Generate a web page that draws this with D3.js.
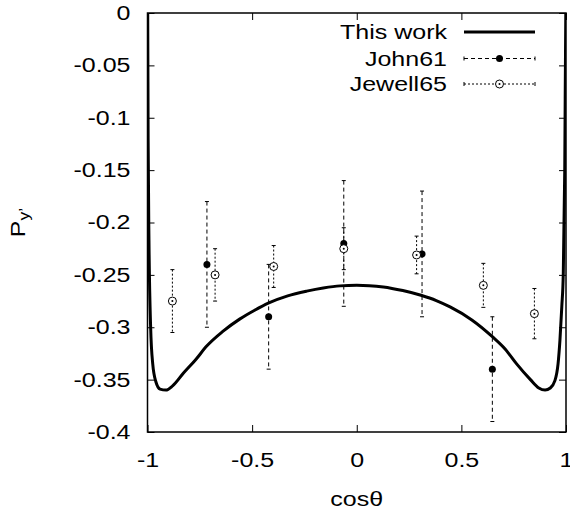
<!DOCTYPE html>
<html>
<head>
<meta charset="utf-8">
<script src="https://cdn.jsdelivr.net/npm/d3@7"></script>
<style>
  body { margin: 0; background: #fff; }
  text { font-family: "Liberation Sans", Arial, sans-serif; fill: #000; }
</style>
</head>
<body>
<svg id="chart" width="570" height="510"></svg>
<script>
// theory curve ("This work")
var curveX = [-0.999, -0.997, -0.993, -0.985, -0.975, -0.96, -0.94, -0.912, -0.88, -0.829, -0.77, -0.717,
              -0.64, -0.558, -0.49, -0.423, -0.33, -0.239, -0.16, -0.08, 0.0, 0.06, 0.127, 0.22, 0.307,
              0.38, 0.446, 0.55, 0.648, 0.71, 0.764, 0.83, 0.87, 0.9, 0.925, 0.947, 0.962, 0.971, 0.98,
              0.987, 0.994, 0.999];
var curveY = [0.0, -0.12, -0.217, -0.30, -0.335, -0.352, -0.359, -0.36, -0.356, -0.344, -0.331, -0.318,
              -0.304, -0.292, -0.284, -0.277, -0.27, -0.2655, -0.2625, -0.2605, -0.26, -0.2603, -0.2615, -0.265, -0.2695,
              -0.2745, -0.2806, -0.293, -0.309, -0.321, -0.335, -0.35, -0.358, -0.36, -0.358, -0.351, -0.335, -0.3125, -0.28,
              -0.249, -0.15, 0.0];

// John61 data
var johnX = [-0.716, -0.421, -0.062, 0.312, 0.648];
var johnY = [-0.24, -0.29, -0.22, -0.23, -0.34];
var johnErr = [0.06, 0.05, 0.06, 0.06, 0.05];

// Jewell65 data
var jewellX = [-0.881, -0.677, -0.397, -0.062, 0.286, 0.605, 0.849];
var jewellY = [-0.275, -0.25, -0.242, -0.225, -0.231, -0.26, -0.287];
var jewellErr = [0.03, 0.025, 0.02, 0.02, 0.018, 0.021, 0.024];

var xTicks = [-1, -0.5, 0, 0.5, 1];
var yTicks = [0, -0.05, -0.1, -0.15, -0.2, -0.25, -0.3, -0.35, -0.4];

var mLeft = 147.5, mRight = 566, mTop = 13, mBottom = 432;
var fontSize = 20;
var stretch = 1.25; // reference glyphs are wider than Liberation Sans

var svg = d3.select("#chart");
var x = d3.scaleLinear().domain([-1, 1]).range([mLeft, mRight]);
var y = d3.scaleLinear().domain([-0.4, 0]).range([mBottom, mTop]);

svg.append("defs").append("clipPath").attr("id", "clip")
    .append("rect").attr("x", mLeft).attr("y", mTop).attr("width", mRight - mLeft).attr("height", mBottom - mTop);

var fmt = function(d) { return String(d); };

// axes with inward ticks, mirrored
svg.append("g").attr("transform", "translate(0," + mBottom + ")")
    .call(d3.axisBottom(x).tickValues(xTicks).tickSize(-7).tickPadding(21).tickFormat(fmt))
    .call(function(g) { g.select(".domain").remove(); });
svg.append("g").attr("transform", "translate(0," + mTop + ")")
    .call(d3.axisTop(x).tickValues(xTicks).tickSize(-7).tickFormat(""))
    .call(function(g) { g.select(".domain").remove(); });
svg.append("g").attr("transform", "translate(" + mLeft + ",0)")
    .call(d3.axisLeft(y).tickValues(yTicks).tickSize(-7).tickPadding(17).tickFormat(fmt))
    .call(function(g) { g.select(".domain").remove(); });
svg.append("g").attr("transform", "translate(" + mRight + ",0)")
    .call(d3.axisRight(y).tickValues(yTicks).tickSize(-7).tickFormat(""))
    .call(function(g) { g.select(".domain").remove(); });

svg.selectAll(".tick line").attr("stroke", "#000");
svg.selectAll(".tick text").attr("font-size", fontSize)
    .attr("font-family", "Liberation Sans, Arial, sans-serif").attr("fill", "#000");

svg.append("rect").attr("x", mLeft).attr("y", mTop).attr("width", mRight - mLeft).attr("height", mBottom - mTop)
    .attr("fill", "none").attr("stroke", "#000").attr("stroke-width", 1.5);

// error bars
function drawErrors(xs, ys, errs, dash) {
    var g = svg.append("g").attr("stroke", "#000").attr("stroke-width", 1);
    for (var i = 0; i < xs.length; i++) {
        var cx = x(xs[i]);
        g.append("line").attr("x1", cx).attr("x2", cx)
            .attr("y1", y(ys[i] + errs[i])).attr("y2", y(ys[i] - errs[i]))
            .attr("stroke-dasharray", dash);
        [ys[i] + errs[i], ys[i] - errs[i]].forEach(function(v) {
            g.append("line").attr("x1", cx - 2).attr("x2", cx + 2)
                .attr("y1", y(v)).attr("y2", y(v));
        });
    }
}
drawErrors(johnX, johnY, johnErr, "4,3");
drawErrors(jewellX, jewellY, jewellErr, "2,2");

// curve
var pts = curveX.map(function(d, i) { return [d, curveY[i]]; });
pts.unshift([-1, 0.01]);
pts.push([1, 0.01]);
svg.append("path").datum(pts)
    .attr("clip-path", "url(#clip)")
    .attr("fill", "none").attr("stroke", "#000").attr("stroke-width", 3)
    .attr("d", d3.line().x(function(d) { return x(d[0]); }).y(function(d) { return y(d[1]); })
        .curve(d3.curveMonotoneX));

// points
svg.append("g").selectAll("circle").data(johnX).enter().append("circle")
    .attr("cx", function(d) { return x(d); })
    .attr("cy", function(d, i) { return y(johnY[i]); })
    .attr("r", 3.5).attr("fill", "#000");

var jg = svg.append("g");
jg.selectAll("circle.o").data(jewellX).enter().append("circle").attr("class", "o")
    .attr("cx", function(d) { return x(d); })
    .attr("cy", function(d, i) { return y(jewellY[i]); })
    .attr("r", 4).attr("fill", "#fff").attr("stroke", "#000").attr("stroke-width", 1);
jg.selectAll("circle.d").data(jewellX).enter().append("circle").attr("class", "d")
    .attr("cx", function(d) { return x(d); })
    .attr("cy", function(d, i) { return y(jewellY[i]); })
    .attr("r", 1).attr("fill", "#000");

// legend
var legendNames = ["This work", "John61", "Jewell65"];
var legendY = [32, 58.5, 84];
var lx1 = 464, lx2 = 535;
legendNames.forEach(function(name, i) {
    svg.append("text").attr("x", 447).attr("y", legendY[i]).attr("dy", "0.35em")
        .attr("text-anchor", "end").attr("font-size", fontSize).text(name);
});
svg.append("line").attr("x1", lx1).attr("x2", lx2).attr("y1", legendY[0]).attr("y2", legendY[0])
    .attr("stroke", "#000").attr("stroke-width", 3);
[[1, "4,3"], [2, "2,2"]].forEach(function(p) {
    var ly = legendY[p[0]];
    svg.append("line").attr("x1", lx1).attr("x2", lx2).attr("y1", ly).attr("y2", ly)
        .attr("stroke", "#000").attr("stroke-width", 1).attr("stroke-dasharray", p[1]);
    [lx1, lx2].forEach(function(ex) {
        svg.append("line").attr("x1", ex).attr("x2", ex).attr("y1", ly - 2).attr("y2", ly + 2)
            .attr("stroke", "#000").attr("stroke-width", 1);
    });
});
svg.append("circle").attr("cx", (lx1 + lx2) / 2).attr("cy", legendY[1]).attr("r", 3.5).attr("fill", "#000");
svg.append("circle").attr("cx", (lx1 + lx2) / 2).attr("cy", legendY[2]).attr("r", 4)
    .attr("fill", "#fff").attr("stroke", "#000");
svg.append("circle").attr("cx", (lx1 + lx2) / 2).attr("cy", legendY[2]).attr("r", 1).attr("fill", "#000");

// axis titles
svg.append("text").attr("x", (mLeft + mRight) / 2).attr("y", 506)
    .attr("text-anchor", "middle").attr("font-size", fontSize).text("cosθ");
var yl = svg.append("text").attr("transform", "translate(25," + (mTop + mBottom) / 2 + ") rotate(-90)")
    .attr("text-anchor", "middle").attr("font-size", fontSize);
yl.append("tspan").text("P");
yl.append("tspan").attr("font-size", 14).attr("dy", 4).text("y’");

// widen glyphs to match the reference
svg.selectAll("text").each(function() {
    var w = this.getComputedTextLength();
    if (w > 0) {
        this.setAttribute("textLength", w * stretch);
        this.setAttribute("lengthAdjust", "spacingAndGlyphs");
    }
});
</script>
</body>
</html>
